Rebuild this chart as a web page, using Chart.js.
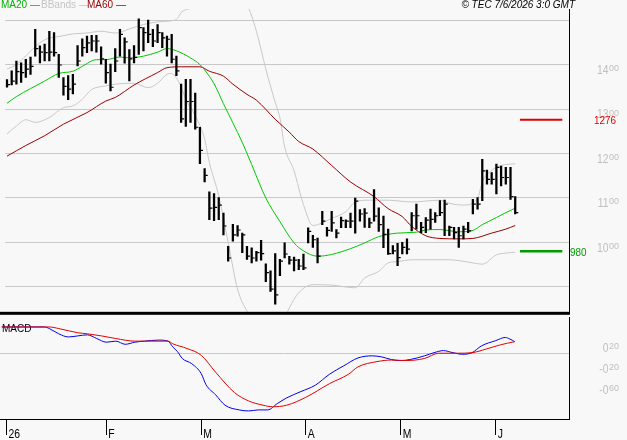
<!DOCTYPE html>
<html>
<head>
<meta charset="utf-8">
<script src="https://cdn.jsdelivr.net/npm/chart.js@4.4.1/dist/chart.umd.min.js"></script>
<style>
  body { margin: 0; background: #f8f8f8; }
  #wrap { position: relative; width: 627px; height: 440px; overflow: hidden; background: #f8f8f8;
          font-family: "Liberation Sans", Arial, sans-serif; }
  canvas { position: absolute; left: 0; }
  #priceCanvas { top: 0; }
  #macdCanvas { top: 317px; }
  .leg { position: absolute; top: -1px; font-size: 10px; white-space: nowrap; }
  #stamp { position: absolute; top: -1px; right: 52px; font-size: 10px; font-style: italic; white-space: nowrap; }
</style>
</head>
<body>
<div id="wrap">
  <canvas id="priceCanvas" width="627" height="317"></canvas>
  <canvas id="macdCanvas" width="627" height="123"></canvas>
  <div class="leg" style="left:1px;color:#00b400">MA20 —</div>
  <div class="leg" style="left:41px;color:#c4c4c4">BBands —</div>
  <div class="leg" style="left:87px;color:#990000">MA60 —</div>
  <div id="stamp">© TEC 7/6/2026 3:0 GMT</div>
</div>
<script>
// daily bars, one per trading day (31 Dec 2025 .. 5 Jun 2026)
var highs = [13.66, 13.86, 14.08, 14.04, 14.12, 14.17, 14.79, 14.42, 14.46, 14.75,
  14.72, 14.23, 13.71, 13.75, 13.78, 14.43, 14.58, 14.64, 14.66, 14.66,
  14.40, 14.12, 14.01, 14.36, 14.79, 14.60, 14.34, 14.43, 15.03, 14.83,
  15.00, 14.79, 14.90, 14.72, 14.64, 14.68, 14.19, 13.56, 13.67, 13.67,
  13.36, 12.59, 11.66, 11.14, 11.10, 11.01, 10.66, 9.91, 10.41, 10.38,
  10.21, 9.91, 9.88, 9.80, 10.05, 9.52, 9.36, 9.75, 9.62, 9.99,
  9.69, 9.67, 9.62, 9.74, 10.33, 10.16, 10.10, 10.70, 10.34, 10.70,
  10.29, 10.57, 10.51, 10.66, 11.00, 10.74, 10.76, 10.55, 11.19, 10.78,
  10.59, 10.30, 9.93, 9.98, 10.00, 10.08, 10.67, 10.86, 10.45, 10.56,
  10.75, 10.67, 10.94, 10.95, 10.37, 10.34, 10.34, 10.37, 10.45, 10.97,
  11.01, 11.87, 11.63, 11.57, 11.76, 11.72, 11.69, 11.69, 11.03];
var lows = [13.49, 13.54, 13.56, 13.60, 13.71, 13.78, 14.19, 14.04, 14.08, 14.08,
  14.19, 13.71, 13.31, 13.21, 13.34, 13.97, 14.19, 14.27, 14.31, 14.28,
  14.01, 13.58, 13.41, 13.84, 14.19, 14.03, 13.63, 14.04, 14.23, 14.31,
  14.49, 14.40, 14.49, 14.38, 14.19, 14.04, 13.75, 12.70, 12.61, 12.70,
  12.55, 11.77, 11.36, 10.51, 10.49, 10.51, 10.17, 9.58, 10.03, 10.14,
  9.77, 9.62, 9.54, 9.58, 9.60, 9.12, 8.90, 8.61, 9.25, 9.65,
  9.51, 9.36, 9.39, 9.39, 9.99, 9.89, 9.54, 10.40, 10.14, 10.25,
  10.10, 10.33, 10.33, 10.33, 10.21, 10.48, 10.34, 10.33, 10.48, 10.25,
  9.88, 9.73, 9.74, 9.48, 9.74, 9.74, 10.26, 10.30, 10.22, 10.22,
  10.30, 10.45, 10.60, 10.15, 10.15, 10.08, 9.89, 10.08, 10.22, 10.64,
  10.75, 10.94, 11.31, 11.31, 11.09, 11.27, 11.31, 10.97, 10.64];
var closes = [13.55, 13.63, 13.84, 13.82, 13.90, 13.96, 14.36, 14.28, 14.27, 14.28,
  14.27, 13.99, 13.51, 13.45, 13.56, 14.08, 14.38, 14.49, 14.53, 14.53,
  14.13, 13.82, 13.49, 14.08, 14.68, 14.51, 14.13, 14.16, 14.83, 14.72,
  14.68, 14.53, 14.72, 14.60, 14.57, 14.12, 13.86, 12.78, 13.17, 13.17,
  12.59, 12.07, 11.51, 10.77, 10.79, 10.84, 10.37, 9.65, 10.17, 10.28,
  10.17, 9.69, 9.65, 9.77, 9.75, 9.32, 8.95, 8.82, 9.58, 9.74,
  9.60, 9.60, 9.47, 9.43, 10.25, 10.06, 9.69, 10.48, 10.27, 10.44,
  10.21, 10.49, 10.48, 10.48, 10.93, 10.64, 10.66, 10.44, 10.59, 10.40,
  10.18, 9.75, 9.81, 9.66, 9.89, 9.85, 10.60, 10.60, 10.34, 10.50,
  10.52, 10.60, 10.67, 10.86, 10.34, 10.22, 10.15, 10.30, 10.26, 10.86,
  10.86, 11.61, 11.42, 11.42, 11.69, 11.46, 11.46, 11.03, 10.67];

// indicator lines: [bar index, value]
var ma20 = [[0, 13.13], [2, 13.28], [5, 13.46], [8, 13.63], [11, 13.80], [14, 13.85], [16, 13.96],
  [19, 14.11], [21, 14.11], [24, 14.17], [26, 14.15], [29, 14.19], [32, 14.28], [34, 14.36],
  [36, 14.31], [39, 14.15], [41, 14.00], [42, 13.88], [44, 13.57], [46, 13.12], [48, 12.69],
  [50, 12.25], [52, 11.75], [55, 11.00], [58, 10.47], [61, 9.99], [63, 9.81], [66, 9.69],
  [69, 9.73], [73, 9.86], [76, 9.99], [79, 10.13], [83, 10.21], [87, 10.23], [89, 10.28],
  [92, 10.29], [96, 10.24], [99, 10.27], [101, 10.40], [104, 10.56], [106, 10.67], [108, 10.77]];
var ma60 = [[0, 11.94], [4, 12.18], [8, 12.40], [12, 12.66], [17, 12.92], [21, 13.18], [23, 13.26],
  [27, 13.54], [32, 13.82], [34, 13.93], [37, 13.95], [41, 13.95], [43, 13.85], [46, 13.74],
  [48, 13.56], [51, 13.33], [53, 13.20], [57, 12.77], [60, 12.48], [62, 12.27], [65, 12.10],
  [69, 11.73], [73, 11.36], [78, 11.03], [81, 10.76], [84, 10.58], [86, 10.36], [89, 10.15],
  [92, 10.09], [96, 10.08], [99, 10.09], [103, 10.21], [106, 10.30], [108, 10.38]];
var bbUpper = [[0, 13.90], [2, 14.00], [5, 14.30], [7, 14.49], [9, 14.60], [11, 14.63], [14, 14.69],
  [17, 14.71], [20, 14.75], [23, 14.71], [26, 14.80], [29, 14.90], [33, 14.97], [36, 15.01],
  [37, 15.17], [40, 15.30], [43, 15.55], [46, 15.65], [49, 15.55], [51, 15.35], [53, 14.75],
  [55, 13.90], [57, 13.15], [58, 12.80], [59, 12.15], [61, 11.61], [63, 10.85], [65, 10.38],
  [66, 10.40], [69, 10.54], [72, 10.69], [74, 10.91], [77, 10.95], [81, 10.95], [86, 10.91],
  [92, 10.95], [94, 10.88], [97, 10.84], [100, 10.99], [101, 11.36], [103, 11.62], [105, 11.73],
  [108, 11.77]];
var bbLower = [[0, 12.44], [2, 12.62], [4, 12.76], [6, 12.70], [9, 12.81], [12, 13.03], [14, 13.07],
  [16, 13.22], [18, 13.44], [21, 13.52], [23, 13.56], [27, 13.58], [30, 13.48], [32, 13.58],
  [34, 13.78], [35, 13.80], [36, 13.70], [37, 13.50], [38, 13.22], [40, 12.85], [42, 12.33],
  [43, 11.80], [45, 11.05], [47, 10.00], [49, 8.95], [51, 8.46], [54, 8.15], [57, 8.10],
  [59, 8.30], [60, 8.53], [62, 8.87], [65, 9.05], [69, 9.04], [74, 8.98], [76, 9.20],
  [79, 9.35], [81, 9.54], [83, 9.57], [86, 9.61], [94, 9.61], [99, 9.54], [101, 9.51],
  [104, 9.72], [106, 9.76], [108, 9.78]];
var macd = [[0, 0.50], [9, 0.50], [10, 0.47], [12, 0.37], [14, 0.31], [16, 0.33], [18, 0.35],
  [20, 0.28], [22, 0.21], [24, 0.23], [26, 0.17], [28, 0.21], [30, 0.23], [33, 0.25], [35, 0.23],
  [36, 0.12], [37, 0.03], [38, -0.10], [40, -0.20], [42, -0.39], [43, -0.60], [45, -0.79],
  [47, -0.99], [50, -1.08], [52, -1.10], [54, -1.08], [56, -1.08], [58, -0.96], [60, -0.85],
  [63, -0.73], [66, -0.61], [69, -0.40], [72, -0.24], [75, -0.09], [78, -0.05], [80, -0.07],
  [82, -0.12], [84, -0.14], [86, -0.12], [89, -0.05], [91, 0.01], [93, 0.05], [95, 0.01],
  [97, -0.02], [99, 0.01], [101, 0.14], [104, 0.24], [106, 0.30], [107, 0.27], [108, 0.22]];
var signal = [[0, 0.50], [10, 0.50], [12, 0.47], [16, 0.39], [18, 0.37], [21, 0.33], [24, 0.28],
  [28, 0.23], [35, 0.23], [36, 0.18], [39, 0.09], [42, -0.04], [45, -0.36], [49, -0.75],
  [52, -0.91], [55, -0.99], [57, -1.02], [60, -0.99], [64, -0.84], [69, -0.58], [73, -0.40],
  [75, -0.26], [79, -0.16], [82, -0.13], [85, -0.14], [89, -0.10], [92, 0.00], [96, 0.00],
  [99, 0.01], [102, 0.08], [105, 0.16], [108, 0.22]];

// axes
var monthIdx = [1, 22, 42, 64, 84, 104];
var monthLabels = ['26', 'F', 'M', 'A', 'M', 'J'];
var priceGrid = [9, 10, 11, 12, 13, 14, 15];
var priceLabels = [10, 11, 12, 13, 14];
var macdGrid = [0];
var macdLabels = [0.2, -0.2, -0.6];

// resistance / support levels and the bar span they are drawn over
var resistance = 12.76;
var support = 9.80;
var levelSpan = [109, 118];

var X_MIN = -0.38, X_MAX = 119.43;
var GREY = '#c8c8c8';
var FONT = '"Liberation Sans", Arial, sans-serif';

function toXY(arr) {
    return arr.map(function(p) { return {x: p[0], y: p[1]}; });
}

function lineSet(label, pts, color, width) {
    return {
        type: 'line', label: label, data: pts, borderColor: color, borderWidth: width || 1,
        pointRadius: 0, cubicInterpolationMode: 'monotone', fill: false
    };
}

// draws text squeezed horizontally, returns drawn width
function narrowText(ctx, text, x, y, size, sx, align, color) {
    ctx.save();
    ctx.font = size + 'px ' + FONT;
    ctx.fillStyle = color;
    ctx.textAlign = align;
    ctx.textBaseline = 'alphabetic';
    ctx.translate(x, y);
    ctx.scale(sx, 1);
    ctx.fillText(text, 0, 0);
    var w = ctx.measureText(text).width * sx;
    ctx.restore();
    return w;
}

// axis label in the "14 00" style, decimals raised and small
function supLabel(ctx, v, xRight, yTop) {
    var parts = Math.abs(v).toFixed(2).split('.');
    var whole = (v < 0 ? '-' : '') + parts[0];
    var fw = narrowText(ctx, parts[1], xRight, yTop + 6.5, 9, 1, 'right', '#c0c0c0');
    narrowText(ctx, whole, xRight - fw - 0.5, yTop + 9.3, 13, 0.8, 'right', '#c0c0c0');
}

var priceDecor = {
    id: 'priceDecor',
    afterDraw: function(chart) {
        var ctx = chart.ctx, area = chart.chartArea, ys = chart.scales.y;
        ctx.save();
        ctx.fillStyle = '#000';
        ctx.fillRect(0, area.bottom, area.right + 1, 3);
        ctx.restore();
        priceLabels.forEach(function(v) {
            supLabel(ctx, v, 619, ys.getPixelForValue(v));
        });
        narrowText(ctx, String(Math.round(resistance * 100)), 616,
            ys.getPixelForValue(resistance) + 4.5, 11, 0.9, 'right', '#dd0000');
        narrowText(ctx, String(Math.round(support * 100)), area.right + 1,
            ys.getPixelForValue(support) + 4.5, 11, 0.9, 'left', '#009900');
    }
};

var macdDecor = {
    id: 'macdDecor',
    beforeDatasetsDraw: function(chart) {
        var ctx = chart.ctx;
        ctx.save();
        ctx.font = '10px ' + FONT;
        ctx.fillStyle = '#000';
        ctx.textBaseline = 'alphabetic';
        ctx.fillText('MACD', 2, 14.5);
        ctx.restore();
    },
    afterDraw: function(chart) {
        var ctx = chart.ctx, area = chart.chartArea;
        var ys = chart.scales.y, xs = chart.scales.x;
        macdLabels.forEach(function(v) {
            supLabel(ctx, v, 619, ys.getPixelForValue(v));
        });
        monthIdx.forEach(function(v, k) {
            narrowText(ctx, monthLabels[k], xs.getPixelForValue(v) + 2, area.bottom + 19,
                13, 0.8, 'left', '#000');
        });
    }
};

var closeTicks = closes.map(function(c, i) { return {x: i + 0.4, y: c}; });
var ranges = highs.map(function(h, i) { return {x: i, y: [lows[i], h]}; });

new Chart(document.getElementById('priceCanvas'), {
    type: 'bar',
    data: {
        datasets: [
            {
                type: 'line', label: 'close', data: closeTicks, showLine: false,
                pointStyle: 'line', pointRadius: 1.2, pointBorderWidth: 1.2,
                pointBorderColor: '#000', pointBackgroundColor: '#000'
            },
            {
                type: 'bar', label: 'range', data: ranges, backgroundColor: '#000',
                borderWidth: 0, barThickness: 1.6, grouped: false
            },
            lineSet('MA20', toXY(ma20), '#00c800'),
            lineSet('MA60', toXY(ma60), '#990000'),
            lineSet('BB upper', toXY(bbUpper), GREY),
            lineSet('BB lower', toXY(bbLower), GREY),
            lineSet('resistance', [{x: levelSpan[0], y: resistance}, {x: levelSpan[1], y: resistance}], '#dd0000', 2),
            lineSet('support', [{x: levelSpan[0], y: support}, {x: levelSpan[1], y: support}], '#009900', 2.5)
        ]
    },
    options: {
        responsive: false,
        animation: false,
        events: [],
        layout: { padding: { top: 9, bottom: 3, left: 0, right: 0 } },
        plugins: { legend: { display: false }, tooltip: { enabled: false } },
        scales: {
            x: { type: 'linear', min: X_MIN, max: X_MAX, display: false, offset: false },
            y: {
                position: 'right', min: 8.44, max: 15.25,
                afterBuildTicks: function(s) { s.ticks = priceGrid.map(function(v) { return {value: v}; }); },
                afterFit: function(s) { s.width = 58; },
                ticks: { display: false },
                grid: { color: GREY, drawTicks: false },
                border: { color: '#000' }
            }
        }
    },
    plugins: [priceDecor]
});

new Chart(document.getElementById('macdCanvas'), {
    type: 'line',
    data: {
        datasets: [
            lineSet('signal', toXY(signal), '#e00000'),
            lineSet('MACD', toXY(macd), '#0000e8')
        ]
    },
    options: {
        responsive: false,
        animation: false,
        events: [],
        layout: { padding: 0 },
        plugins: { legend: { display: false }, tooltip: { enabled: false } },
        scales: {
            x: {
                type: 'linear', min: X_MIN, max: X_MAX, offset: false,
                afterBuildTicks: function(s) { s.ticks = monthIdx.map(function(v) { return {value: v}; }); },
                afterFit: function(s) { s.height = 21; },
                ticks: { display: false },
                grid: { drawOnChartArea: false, drawTicks: true, tickLength: 16, tickColor: '#000' },
                border: { color: '#000' }
            },
            y: {
                position: 'right', min: -1.253, max: 0.69,
                afterBuildTicks: function(s) { s.ticks = macdGrid.map(function(v) { return {value: v}; }); },
                afterFit: function(s) { s.width = 58; },
                ticks: { display: false },
                grid: { color: GREY, drawTicks: false },
                border: { color: '#000' }
            }
        }
    },
    plugins: [macdDecor]
});
</script>
</body>
</html>
